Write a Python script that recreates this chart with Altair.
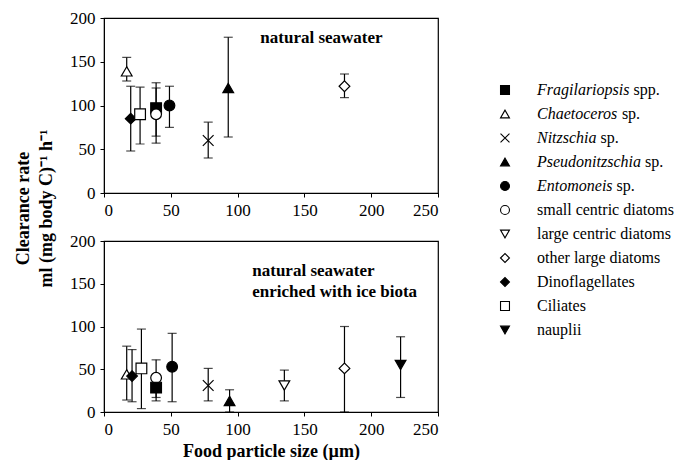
import altair as alt
import pandas as pd

FONT = "Liberation Serif"

# ---- legend / taxa ----
taxa = ["Fragilariopsis spp.", "Chaetoceros sp.", "Nitzschia sp.", "Pseudonitzschia sp.",
        "Entomoneis sp.", "small centric diatoms", "large centric diatoms",
        "other large diatoms", "Dinoflagellates", "Ciliates", "nauplii"]
italic_part = ["Fragilariopsis", "Chaetoceros", "Nitzschia", "Pseudonitzschia", "Entomoneis",
               "", "", "", "", "", ""]
roman_part = ["spp.", "sp.", "sp.", "sp.", "sp.", "small centric diatoms",
              "large centric diatoms", "other large diatoms", "Dinoflagellates",
              "Ciliates", "nauplii"]

X_PATH = "M-1,-1L1,1M1,-1L-1,1"
shapes = ["square", "triangle-up", X_PATH, "triangle-up", "circle", "circle",
          "triangle-down", "diamond", "diamond", "square", "triangle-down"]
fills = ["black", "white", "black", "black", "black", "white",
         "white", "white", "black", "white", "black"]

# ---- panel 1: natural seawater ----
top_taxa = ["Chaetoceros sp.", "Dinoflagellates", "Ciliates", "Fragilariopsis spp.",
            "small centric diatoms", "Entomoneis sp.", "Nitzschia sp.",
            "Pseudonitzschia sp.", "other large diatoms"]
top_size = [17, 20, 27, 39, 39, 49, 78, 93, 180]
top_rate = [139, 85, 90, 97, 90, 100, 60, 120, 122]
top_low = [128, 48, 56, 65, 57, 75, 40, 64, 109]
top_high = [155, 122, 121, 126, 120, 122, 81, 178, 136]

# ---- panel 2: natural seawater enriched with ice biota ----
bot_taxa = ["Chaetoceros sp.", "Dinoflagellates", "Ciliates", "small centric diatoms",
            "Fragilariopsis spp.", "Entomoneis sp.", "Nitzschia sp.", "Pseudonitzschia sp.",
            "large centric diatoms", "other large diatoms", "nauplii"]
bot_size = [17, 21, 28, 39, 39, 51, 78, 94, 135, 180, 222]
bot_rate = [44, 42, 51, 40, 28.5, 53, 31, 13, 31, 51, 55]
bot_low = [14, 12, 4, 13, 17, 12, 13, 0, 13, 0, 17]
bot_high = [77, 73, 97, 61, 40, 92, 51, 26, 49, 100, 88]

x_ticks = [0, 50, 100, 150, 200, 250]
y_ticks = [0, 50, 100, 150, 200]

top_note = ["natural seawater"]
top_note_x = [117]
top_note_y = [177]
bot_note = ["natural seawater", "enriched with ice biota"]
bot_note_x = [111, 111]
bot_note_y = [165, 140]

# Times (Liberation Serif) italic advance widths, 1/1000 em
ITALIC_W = {"F": 611, "C": 667, "N": 667, "P": 611, "E": 611, "a": 500, "c": 444,
            "d": 500, "e": 444, "g": 500, "h": 500, "i": 278, "l": 278, "m": 722,
            "n": 500, "o": 500, "p": 500, "r": 389, "s": 389, "t": 278, "u": 500,
            "z": 389}
LEG_FS = 16
TEXT_X = 73


def text_width(s):
    return sum(ITALIC_W.get(c, 500) for c in s) * LEG_FS / 1000.0


shape_scale = alt.Scale(domain=taxa, range=shapes)
fill_scale = alt.Scale(domain=taxa, range=fills)


def panel(taxa_l, size, rate, low, high, notes, nx, ny, height, x_title, y_axis):
    df = pd.DataFrame({"taxon": taxa_l, "size": size, "rate": rate, "lo": low, "hi": high})
    nd = pd.DataFrame({"note": notes, "nx": nx, "ny": ny})
    xs = alt.Scale(domain=[0, 250], nice=False)
    ys = alt.Scale(domain=[0, 200], nice=False)
    xa = alt.Axis(values=x_ticks, title=x_title, titlePadding=5)
    base = alt.Chart(df)
    X = lambda f: alt.X(f, scale=xs, axis=xa)
    Y = lambda f: alt.Y(f, scale=ys, axis=y_axis)
    rule = base.mark_rule(color="black", strokeWidth=1.2).encode(
        x=X("size:Q"), y=Y("lo:Q"), y2="hi:Q")
    cap_lo = base.mark_tick(orient="horizontal", size=9, thickness=1.2, color="black").encode(
        x=X("size:Q"), y=Y("lo:Q"))
    cap_hi = base.mark_tick(orient="horizontal", size=9, thickness=1.2, color="black").encode(
        x=X("size:Q"), y=Y("hi:Q"))
    pts = base.mark_point(filled=True, opacity=1, stroke="black", strokeWidth=1.2, size=115).encode(
        x=X("size:Q"), y=Y("rate:Q"),
        shape=alt.Shape("taxon:N", scale=shape_scale, legend=None),
        fill=alt.Fill("taxon:N", scale=fill_scale, legend=None))
    txt = alt.Chart(nd).mark_text(align="left", baseline="middle", font=FONT, fontSize=17,
                                  fontWeight="bold", color="black").encode(
        x=X("nx:Q"), y=Y("ny:Q"), text="note:N")
    return alt.layer(rule, cap_lo, cap_hi, pts, txt).properties(width=334, height=height)


y_axis_top = alt.Axis(values=y_ticks, title=["Clearance rate", "ml (mg body C)\u207b\u00b9 h\u207b\u00b9"],
                      titleX=-72, titleY=190, titleAngle=270, titleAlign="center",
                      titleBaseline="bottom", titleLineHeight=23)
y_axis_bot = alt.Axis(values=y_ticks, title=None)

top = panel(top_taxa, top_size, top_rate, top_low, top_high, top_note, top_note_x, top_note_y,
            175, None, y_axis_top)
bottom = panel(bot_taxa, bot_size, bot_rate, bot_low, bot_high, bot_note, bot_note_x, bot_note_y,
               171, "Food particle size (\u00b5m)", y_axis_bot)

# legend built by hand (mixed italic / roman text)
leg = pd.DataFrame({"taxon": taxa, "row": list(range(len(taxa))),
                    "ital": italic_part, "rom": roman_part})
leg["tx"] = TEXT_X
leg["rx"] = [TEXT_X + (text_width(i) + 0.25 * LEG_FS if i else 0) for i in italic_part]
LW = 190
lx = alt.Scale(domain=[0, LW], range=[0, LW])
ly = alt.Scale(domain=[-3, 12], nice=False, zero=False, reverse=True)
lbase = alt.Chart(leg)
l_pts = lbase.mark_point(filled=True, opacity=1, stroke="black", strokeWidth=1.1, size=80).encode(
    x=alt.value(41), y=alt.Y("row:Q", scale=ly, axis=None),
    shape=alt.Shape("taxon:N", scale=shape_scale, legend=None),
    fill=alt.Fill("taxon:N", scale=fill_scale, legend=None))
l_ital = lbase.mark_text(align="left", baseline="middle", font=FONT, fontSize=LEG_FS,
                         fontStyle="italic", color="black").encode(
    x=alt.X("tx:Q", scale=lx, axis=None), y=alt.Y("row:Q", scale=ly, axis=None), text="ital:N")
l_rom = lbase.mark_text(align="left", baseline="middle", font=FONT, fontSize=LEG_FS,
                        color="black").encode(
    x=alt.X("rx:Q", scale=lx, axis=None), y=alt.Y("row:Q", scale=ly, axis=None), text="rom:N")
legend = alt.layer(l_pts, l_ital, l_rom).properties(
    width=LW, height=360, view=alt.ViewBackground(stroke="transparent"))

panels = alt.vconcat(top, bottom, spacing=48, bounds="flush")
chart = alt.hconcat(panels, legend, spacing=23).properties(
    padding={"left": 5, "top": 0, "right": 0, "bottom": 0}
).configure_view(stroke="black", strokeWidth=1.2).configure_axis(
    labelFont=FONT, labelFontSize=17, labelColor="black", tickColor="black",
    domainColor="black", grid=False, tickSize=4, labelPadding=5,
    titleFont=FONT, titleColor="black", titleFontWeight="bold", titleFontSize=18
)

chart.save("out.html", embed_options={"renderer": "svg", "actions": False})
